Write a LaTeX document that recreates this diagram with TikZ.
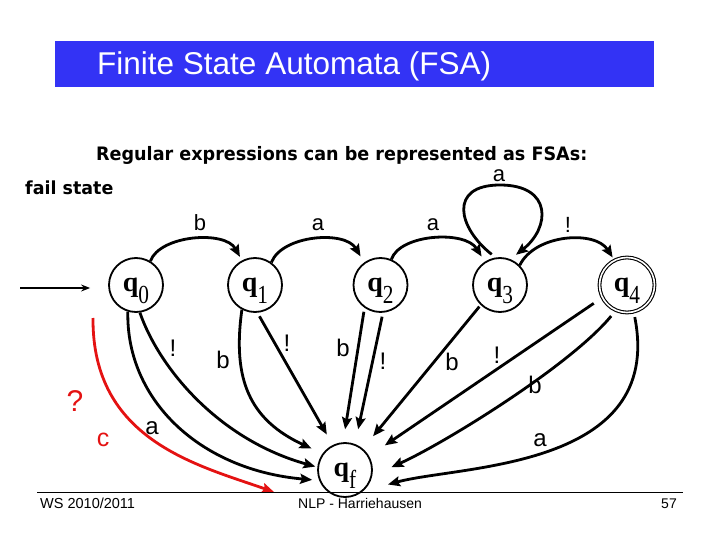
\documentclass[tikz,border=0pt]{standalone}
\usepackage{fontspec}
\setmainfont{Liberation Sans}
\newfontfamily\serifq{Liberation Serif}
\newfontfamily\dejavu{DejaVu Sans}
\usetikzlibrary{arrows.meta}
\definecolor{titleblue}{RGB}{51,51,245}
\definecolor{failred}{RGB}{228,18,18}
\newcommand{\qlab}[1]{\raisebox{-6pt}[0pt][0pt]{\serifq\fontsize{28}{28}\selectfont\textbf{q}\fontsize{26}{26}\selectfont\raisebox{-12pt}{\scalebox{0.82}[1]{#1}}}}
\tikzset{
  state/.style={circle, draw, line width=1.8pt, minimum size=54pt, inner sep=0pt},
  accstate/.style={circle, draw, double, double distance=1.6pt, line width=1.1pt, minimum size=55pt, inner sep=0pt},
  edge/.style={line width=2.8pt, -{Stealth[length=12pt,width=10pt,inset=2pt]}},
  redge/.style={edge, draw=failred},
  lab/.style={font=\fontsize{24}{24}\selectfont, inner sep=0pt},
  toplab/.style={font=\fontsize{22}{22}\selectfont, inner sep=0pt},
}
\begin{document}
\begin{tikzpicture}[x=1pt,y=-1pt]
\useasboundingbox (0,0) rectangle (720,540);
% title bar
\fill[titleblue] (55,41) rectangle (654,87);
\node[anchor=base west, inner sep=0pt, text=white, font=\fontsize{31.5}{31.5}\selectfont] (title) at (97,75) {Finite State Automata (FSA)};
\node[anchor=base west, inner sep=0pt, font=\dejavu\bfseries\fontsize{18.5}{18.5}\selectfont] (sub) at (96,161) {\scalebox{0.95}[1]{Regular expressions can be represented as FSAs:}};
\node[anchor=base west, inner sep=0pt, font=\dejavu\bfseries\fontsize{18}{18}\selectfont] (fail) at (25,195) {\scalebox{0.97}[1]{fail state}};
% states
\node[state] (q0) at (136,285) {\qlab{0}};
\node[state] (q1) at (255,285) {\qlab{1}};
\node[state] (q2) at (380.5,285) {\qlab{2}};
\node[state] (q3) at (500,285) {\qlab{3}};
\node[accstate] (q4) at (627,285) {\qlab{4}};
\node[state] (qf) at (345,470) {\qlab{f}};
% initial arrow
\coordinate (init) at (20,288);
\draw[line width=1.2pt, -{Stealth[length=9pt,width=7pt]}, shorten >=18pt] (init) -- ([yshift=-3pt]q0.west);
% top transitions
\draw[edge, shorten >=4pt] (q0.59) .. controls (160,235) and (225,230) .. (q1.118);
\draw[edge, shorten >=7pt] (q1.54) .. controls (282,235) and (345,230) .. (q2.126);
\draw[edge, shorten >=6pt] (q2.67) .. controls (400,234) and (465,230) .. (q3.123);
\draw[edge, shorten >=3pt] (q3.45) .. controls (535,234) and (595,230) .. (q4.117);
\draw[edge, shorten <=5pt, shorten >=7pt] (q3.99) .. controls (458,228) and (448,185) .. (500,185) .. controls (553,185) and (550,228) .. (q3.68);
\node[toplab] (lb01) at (200,223) {b};
\node[toplab] (la12) at (318,225) {a};
\node[toplab] (la23) at (433,225) {a};
\node[toplab] (le34) at (568,225) {!};
\node[toplab] (la33) at (499,176) {a};
% transitions to fail state
\draw[edge, shorten >=7pt] (q0.253) .. controls (126,400) and (200,470) .. (qf.202);
\draw[edge, shorten >=2pt] (q0.278) .. controls (160,370) and (220,440) .. (qf.174);
\draw[edge, shorten >=12pt] (q1.242) .. controls (232,380) and (250,420) .. (qf.144);
\draw[edge, shorten <=4pt, shorten >=12pt] (q1.275) -- (qf.116);
\draw[edge, shorten <=4pt, shorten >=13pt] (q2.235) -- (qf.94);
\draw[edge, shorten <=4pt, shorten >=15pt] (q2.275) -- (qf.69);
\draw[edge, shorten <=2pt, shorten >=16pt] (q3.226) -- (qf.50);
\draw[edge, shorten <=10pt, shorten >=19pt] (q4.207) -- (qf.30);
\draw[edge, shorten <=7pt, shorten >=21pt] (q4.246) .. controls (571,365) and (445,443) .. (qf.-12);
\draw[edge, shorten <=5pt, shorten >=26pt] (q4.284) .. controls (665,470) and (459,465) .. (qf.-50);
\node[lab] (l1) at (173,348) {!};
\node[lab] (l2) at (152,428) {a};
\node[lab] (l3) at (223,360) {b};
\node[lab] (l4) at (287,343) {!};
\node[lab] (l5) at (343,348) {b};
\node[lab] (l6) at (383,361) {!};
\node[lab] (l7) at (452,362) {b};
\node[lab] (l8) at (497,355) {!};
\node[lab] (l9) at (535,385) {b};
\node[lab] (l10) at (540,440) {a};
% red fail arrow
\coordinate (rs) at (93,318);
\coordinate (re) at (274,492);
\draw[redge] (rs) .. controls (92,440) and (197,465) .. (re);
\node[inner sep=0pt, text=failred, font=\fontsize{30}{30}\selectfont] (qm) at (75,401) {?};
\node[inner sep=0pt, text=failred, font=\fontsize{25}{25}\selectfont] (cc) at (103,440) {c};
% footer
\draw[line width=0.8pt] (37,492) -- (683,492);
\node[anchor=base west, inner sep=0pt, font=\fontsize{14.5}{14.5}\selectfont] (f1) at (40,508) {WS 2010/2011};
\node[anchor=base west, inner sep=0pt, font=\fontsize{14}{14}\selectfont] (f2) at (298,508) {NLP - Harriehausen};
\node[anchor=base east, inner sep=0pt, font=\fontsize{14}{14}\selectfont] (f3) at (677,508) {57};
\end{tikzpicture}
\end{document}
